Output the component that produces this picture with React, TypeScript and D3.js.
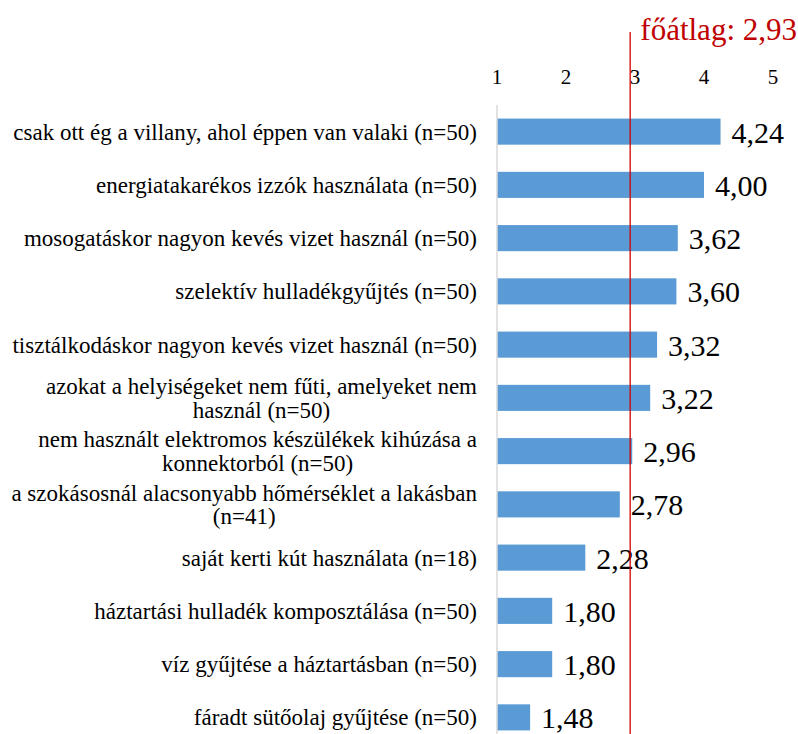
import React, { useEffect, useRef } from "react";
import * as d3 from "d3";

const categories = [
  "csak ott ég a villany, ahol éppen van valaki (n=50)",
  "energiatakarékos izzók használata (n=50)",
  "mosogatáskor nagyon kevés vizet használ (n=50)",
  "szelektív hulladékgyűjtés (n=50)",
  "tisztálkodáskor nagyon kevés vizet használ (n=50)",
  "azokat a helyiségeket nem fűti, amelyeket nem használ (n=50)",
  "nem használt elektromos készülékek kihúzása a konnektorból (n=50)",
  "a szokásosnál alacsonyabb hőmérséklet a lakásban (n=41)",
  "saját kerti kút használata (n=18)",
  "háztartási hulladék komposztálása (n=50)",
  "víz gyűjtése a háztartásban (n=50)",
  "fáradt sütőolaj gyűjtése (n=50)",
];
const values = [4.24, 4.0, 3.62, 3.6, 3.32, 3.22, 2.96, 2.78, 2.28, 1.8, 1.8, 1.48];
const tickValues = [1, 2, 3, 4, 5];
const grandMean = 2.93;
const grandMeanLabel = "főátlag: 2,93";

const W = 798;
const H = 734;
const FONT = "Liberation Serif, DejaVu Serif, serif";
const fmt = (v: number) => v.toFixed(2).replace(".", ",");

export default function App() {
  const ref = useRef<SVGSVGElement>(null);

  useEffect(() => {
    const svg = d3.select(ref.current);
    svg.selectAll("*").remove();

    const x = d3.scaleLinear().domain([1, 5]).range([497, 773]);
    const y = d3
      .scaleBand<string>()
      .domain(categories)
      .range([105, 744])
      .paddingInner(0.51)
      .paddingOuter(0.255);

    // tick labels
    svg
      .append("g")
      .selectAll("text")
      .data(tickValues)
      .join("text")
      .attr("x", (d) => x(d))
      .attr("y", 84)
      .attr("text-anchor", "middle")
      .style("font-family", FONT)
      .style("font-size", "21px")
      .attr("fill", "#000")
      .text((d) => String(d));

    // bars
    svg
      .append("g")
      .selectAll("rect")
      .data(values)
      .join("rect")
      .attr("x", x(1))
      .attr("y", (_, i) => y(categories[i])!)
      .attr("width", (d) => x(d) - x(1))
      .attr("height", y.bandwidth())
      .attr("fill", "#5B9BD5");

    // axis line
    svg
      .append("line")
      .attr("x1", x(1))
      .attr("x2", x(1))
      .attr("y1", 105)
      .attr("y2", H)
      .attr("stroke", "#D9D9D9")
      .attr("stroke-width", 1.5);

    // value labels
    svg
      .append("g")
      .selectAll("text")
      .data(values)
      .join("text")
      .attr("x", (d) => x(d) + 11)
      .attr("y", (_, i) => y(categories[i])! + y.bandwidth() / 2)
      .attr("dy", "0.37em")
      .style("font-family", FONT)
      .style("font-size", "30px")
      .attr("fill", "#000")
      .text((d) => fmt(d));

    // category labels with wrapping
    const rightEdge = 477;
    const maxWidth = 472;
    const lineH = 23.5;
    const fs = "23px";
    const gl = svg.append("g");
    const measure = gl
      .append("text")
      .style("font-family", FONT)
      .style("font-size", fs)
      .attr("visibility", "hidden");
    const width = (s: string) => {
      measure.text(s);
      return (measure.node() as SVGTextElement).getComputedTextLength();
    };
    categories.forEach((c) => {
      const words = c.split(" ");
      const lines: string[] = [];
      let cur = "";
      words.forEach((w) => {
        const t = cur ? cur + " " + w : w;
        if (width(t) > maxWidth && cur) {
          lines.push(cur);
          cur = w;
        } else cur = t;
      });
      if (cur) lines.push(cur);
      const widths = lines.map(width);
      const maxW = Math.max(...widths);
      const cx = rightEdge - maxW / 2;
      const cy = y(c)! + y.bandwidth() / 2;
      const t = gl
        .append("text")
        .style("font-family", FONT)
        .style("font-size", fs)
        .attr("fill", "#000")
        .attr("text-anchor", lines.length > 1 ? "middle" : "end");
      lines.forEach((ln, i) => {
        t.append("tspan")
          .attr("x", lines.length > 1 ? cx : rightEdge)
          .attr("y", cy + (i - (lines.length - 1) / 2) * lineH)
          .attr("dy", "0.35em")
          .text(ln);
      });
    });
    measure.remove();

    // grand mean line
    svg
      .append("line")
      .attr("x1", x(grandMean))
      .attr("x2", x(grandMean))
      .attr("y1", 32)
      .attr("y2", H)
      .attr("stroke", "#D00000")
      .attr("stroke-width", 1.3);
    svg
      .append("text")
      .attr("x", 797)
      .attr("y", 40)
      .attr("text-anchor", "end")
      .style("font-family", FONT)
      .style("font-size", "31px")
      .attr("fill", "#C00000")
      .text(grandMeanLabel);
  }, []);

  return (
    <svg
      ref={ref}
      width={W}
      height={H}
      style={{ position: "absolute", left: 0, top: 0, background: "#fff" }}
    />
  );
}
